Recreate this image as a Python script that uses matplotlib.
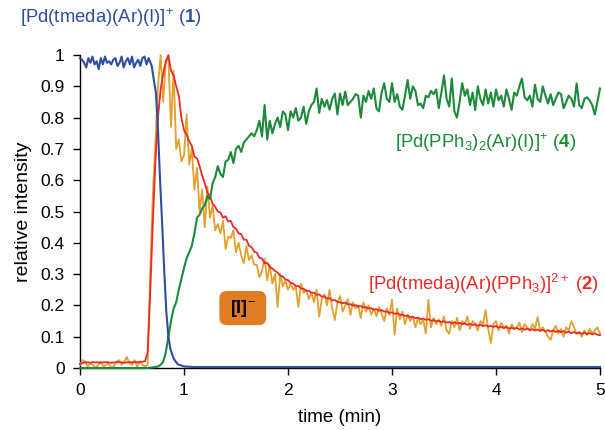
import numpy as np
import matplotlib
matplotlib.use("Agg")
import matplotlib.pyplot as plt
from matplotlib.patches import FancyBboxPatch

plt.rcParams['font.family'] = ['Liberation Sans', 'DejaVu Sans']
plt.rcParams['mathtext.fontset'] = 'custom'
plt.rcParams['mathtext.rm'] = 'Liberation Sans'
plt.rcParams['mathtext.it'] = 'Liberation Sans:italic'
plt.rcParams['mathtext.bf'] = 'Liberation Sans:bold'

# common time grid (min), step 0.025
t_grid = np.round(np.arange(201) * 0.025, 3)

# [Pd(tmeda)(Ar)(I)]+ (1)
t_blue = [0.00, 0.02, 0.04, 0.06, 0.08, 0.10, 0.12, 0.14, 0.16, 0.18, 0.20, 0.22,
          0.24, 0.26, 0.28, 0.30, 0.32, 0.34, 0.36, 0.38, 0.40, 0.42, 0.44, 0.46,
          0.48, 0.50, 0.52, 0.54, 0.56, 0.58, 0.60, 0.62, 0.64, 0.66, 0.69, 0.71,
          0.73, 0.75, 0.77, 0.79, 0.81, 0.83, 0.85, 0.87, 0.90, 0.94, 1.00, 1.10, 5.00]
v_blue = [0.99, 0.985, 0.975, 0.96, 0.99, 0.975, 0.995, 0.97, 0.98, 0.955, 0.99, 0.97,
          0.995, 0.975, 0.98, 0.97, 0.985, 0.99, 0.965, 0.975, 0.995, 0.96, 0.98, 0.99,
          0.97, 0.995, 0.96, 0.975, 0.985, 0.965, 0.99, 0.995, 0.97, 0.99, 0.965, 0.92,
          0.88, 0.76, 0.6, 0.46, 0.31, 0.18, 0.1, 0.06, 0.03, 0.012, 0.005, 0.003, 0.003]

# [Pd(tmeda)(Ar)(PPh3)]2+ (2)
v_red = [0.013, 0.016, 0.018, 0.018, 0.017, 0.019, 0.018, 0.018, 0.017, 0.018,
         0.019, 0.018, 0.017, 0.018, 0.018, 0.019, 0.018, 0.017, 0.018, 0.019,
         0.018, 0.019, 0.018, 0.02, 0.02, 0.022,
         0.05, 0.24, 0.46, 0.66, 0.8, 0.89, 0.94, 0.98, 1.0, 0.95,
         0.935, 0.9, 0.87, 0.8,
         0.76, 0.745, 0.725, 0.71, 0.675, 0.67, 0.645, 0.615, 0.59, 0.56,
         0.55, 0.525, 0.515, 0.5, 0.497, 0.48, 0.485, 0.468, 0.47, 0.45,
         0.445, 0.43, 0.428, 0.41, 0.41, 0.39, 0.386, 0.372, 0.368, 0.352,
         0.35, 0.335, 0.336, 0.322, 0.318, 0.31, 0.305, 0.295, 0.292, 0.283,
         0.281, 0.272, 0.27, 0.262, 0.262, 0.254, 0.253, 0.246, 0.247, 0.24,
         0.241, 0.234, 0.235, 0.228, 0.229, 0.222, 0.223, 0.216, 0.217, 0.211,
         0.21, 0.207, 0.209, 0.203, 0.204, 0.199, 0.201, 0.196, 0.198, 0.193,
         0.195, 0.19, 0.191, 0.186, 0.188, 0.183, 0.185, 0.18, 0.181, 0.176,
         0.178, 0.173, 0.175, 0.17, 0.171, 0.166, 0.168, 0.162, 0.164, 0.159,
         0.161, 0.156, 0.158, 0.154, 0.156, 0.151, 0.153, 0.149, 0.151, 0.147,
         0.149, 0.145, 0.147, 0.143, 0.146, 0.142, 0.144, 0.14, 0.143, 0.138,
         0.141, 0.137, 0.14, 0.135, 0.138, 0.134, 0.137, 0.132, 0.135, 0.131,
         0.134, 0.129, 0.132, 0.127, 0.131, 0.126, 0.129, 0.125, 0.128, 0.123,
         0.127, 0.122, 0.126, 0.121, 0.124, 0.12, 0.123, 0.118, 0.122, 0.117,
         0.121, 0.116, 0.12, 0.115, 0.119, 0.114, 0.118, 0.113, 0.116, 0.111,
         0.115, 0.11, 0.114, 0.109, 0.113, 0.108, 0.112, 0.107, 0.111, 0.106,
         0.105]

# [I]-
v_orange = [0.01, 0.025, 0.02, 0.005, 0.015, 0.01, 0.0, 0.01, 0.02, 0.005,
            0.01, 0.015, 0.0, 0.005, 0.02, 0.025, 0.01, 0.02, 0.035, 0.015,
            0.01, 0.025, 0.005, 0.02, 0.01, 0.005,
            0.01, 0.3, 0.55, 0.72, 0.9, 1.0, 0.85, 0.98, 0.99, 0.77,
            0.95, 0.7, 0.73, 0.66,
            0.68, 0.81, 0.65, 0.7, 0.57, 0.64, 0.5, 0.57, 0.45, 0.58,
            0.48, 0.52, 0.44, 0.46, 0.43, 0.47, 0.38, 0.42, 0.415, 0.44,
            0.37, 0.4, 0.36, 0.335, 0.39, 0.345, 0.36, 0.33, 0.33, 0.29,
            0.31, 0.35, 0.28, 0.33, 0.27, 0.3, 0.195, 0.3, 0.26, 0.28,
            0.25, 0.27, 0.25, 0.26, 0.195, 0.27, 0.24, 0.25, 0.22, 0.24,
            0.21, 0.25, 0.164, 0.22, 0.235, 0.2, 0.25, 0.19, 0.153, 0.21,
            0.23, 0.18, 0.2, 0.22, 0.17, 0.21, 0.19, 0.2, 0.16, 0.21,
            0.18, 0.2, 0.17, 0.19, 0.165, 0.195, 0.175, 0.15, 0.19, 0.17,
            0.218, 0.106, 0.19, 0.155, 0.18, 0.14, 0.17, 0.15, 0.165, 0.13,
            0.16, 0.14, 0.155, 0.11, 0.218, 0.13, 0.16, 0.14, 0.155, 0.135,
            0.165, 0.12, 0.11, 0.15, 0.13, 0.16, 0.12, 0.15, 0.14, 0.165,
            0.125, 0.15, 0.14, 0.12, 0.15, 0.14, 0.185, 0.125, 0.08, 0.14,
            0.15, 0.12, 0.145, 0.13, 0.135, 0.11, 0.14, 0.125, 0.13, 0.145,
            0.115, 0.14, 0.13, 0.12, 0.14, 0.125, 0.164, 0.12, 0.13, 0.115,
            0.1, 0.09, 0.12, 0.135, 0.11, 0.125, 0.1, 0.13, 0.12, 0.15,
            0.13, 0.11, 0.115, 0.1, 0.12, 0.105, 0.125, 0.11, 0.12, 0.13,
            0.11]

# [Pd(PPh3)2(Ar)(I)]+ (4)
v_green = [0.0, 0.0, 0.0, 0.0, 0.0, 0.0, 0.0, 0.0, 0.0, 0.0,
           0.0, 0.0, 0.0, 0.0, 0.0, 0.0, 0.0, 0.0, 0.0, 0.0,
           0.0, 0.0, 0.0, 0.0, 0.0, 0.0, 0.0, 0.001, 0.002,
           0.003, 0.005, 0.01, 0.02, 0.05, 0.1, 0.15, 0.19, 0.21, 0.25, 0.285,
           0.32, 0.35, 0.37, 0.39, 0.43, 0.48, 0.49, 0.51, 0.52, 0.55,
           0.54, 0.59, 0.61, 0.645, 0.62, 0.61, 0.66, 0.665, 0.69, 0.655,
           0.7, 0.71, 0.69, 0.72, 0.73, 0.74, 0.75, 0.74, 0.76, 0.79,
           0.74, 0.84, 0.73, 0.79, 0.75, 0.78, 0.8, 0.77, 0.82, 0.81,
           0.76, 0.82, 0.8, 0.83, 0.79, 0.8, 0.835, 0.78, 0.82, 0.84,
           0.85, 0.893, 0.815, 0.86, 0.835, 0.856, 0.825, 0.86, 0.877, 0.81,
           0.877, 0.84, 0.883, 0.84, 0.85, 0.86, 0.875, 0.87, 0.8, 0.87,
           0.85, 0.885, 0.86, 0.893, 0.83, 0.82, 0.88, 0.91, 0.86, 0.85,
           0.91, 0.85, 0.875, 0.835, 0.825, 0.87, 0.92, 0.86, 0.9, 0.885,
           0.84, 0.845, 0.83, 0.87, 0.865, 0.885, 0.875, 0.89, 0.83, 0.88,
           0.935, 0.86, 0.835, 0.925, 0.82, 0.8, 0.85, 0.91, 0.87, 0.89,
           0.84, 0.88, 0.824, 0.9, 0.86, 0.84, 0.89, 0.845, 0.88, 0.835,
           0.89, 0.855, 0.87, 0.835, 0.89, 0.86, 0.825, 0.88, 0.87, 0.9,
           0.925, 0.865, 0.855, 0.87, 0.835, 0.905, 0.86, 0.85, 0.9, 0.87,
           0.845, 0.875, 0.84, 0.86, 0.88, 0.875, 0.83, 0.85, 0.87, 0.86,
           0.835, 0.909, 0.84, 0.83, 0.86, 0.865, 0.855, 0.84, 0.81, 0.85,
           0.893]

x_ticks = [0, 1, 2, 3, 4, 5]
y_ticks = [0, 0.1, 0.2, 0.3, 0.4, 0.5, 0.6, 0.7, 0.8, 0.9, 1]
y_tick_labels = ["0", "0.1", "0.2", "0.3", "0.4", "0.5", "0.6", "0.7", "0.8", "0.9", "1"]

c_blue = "#2f4ea3"
c_red = "#ec2b27"
c_orange = "#e3a02c"
c_green = "#1c8a3b"
c_box = "#e07d24"

fig = plt.figure(figsize=(6.05, 4.3), dpi=100)
ax = fig.add_axes([80 / 605, 1 - 368 / 430, 520 / 605, 313 / 430])

ax.plot(t_grid, v_orange, color=c_orange, lw=1.3, clip_on=False, zorder=3)
ax.plot(t_grid, v_red, color=c_red, lw=1.3, clip_on=False, zorder=4)
ax.plot(t_grid, v_green, color=c_green, lw=1.5, clip_on=False, zorder=5)
ax.plot(t_blue, v_blue, color=c_blue, lw=1.5, clip_on=False, zorder=6)

ax.set_xlim(0, 5)
ax.set_ylim(0, 1)
ax.set_xticks(x_ticks)
ax.set_xticklabels([str(x) for x in x_ticks])
ax.set_yticks(y_ticks)
ax.set_yticklabels(y_tick_labels)
ax.tick_params(direction='out', length=5, width=1, labelsize=12.5, colors='black', pad=6)
for s in ['top', 'right']:
    ax.spines[s].set_visible(False)
for s in ['left', 'bottom']:
    ax.spines[s].set_linewidth(1.0)
ax.set_xlabel("time (min)", fontsize=13.5, labelpad=8)
ax.set_ylabel("relative intensity", fontsize=14, labelpad=6)

fig.text(20 / 605, 1 - 18 / 430, r"[Pd(tmeda)(Ar)(I)]$^{+}$ ($\mathbf{1}$)",
         color=c_blue, fontsize=13.3, va='center', ha='left')
ax.text(3.03, 0.72, r"[Pd(PPh$_{3}$)$_{2}$(Ar)(I)]$^{+}$ ($\mathbf{4}$)",
        color=c_green, fontsize=13.3, va='center', ha='left')
ax.text(2.77, 0.27, r"[Pd(tmeda)(Ar)(PPh$_{3}$)]$^{2+}$ ($\mathbf{2}$)",
        color=c_red, fontsize=13.3, va='center', ha='left')

box = FancyBboxPatch((1.34, 0.137), 0.45, 0.109, boxstyle="round,pad=0,rounding_size=0.07",
                     transform=ax.transData, facecolor=c_box, edgecolor='none', zorder=2,
                     mutation_aspect=0.35)
ax.add_patch(box)
ax.text(1.565, 0.19, r"[I]$^{-}$", color='black', fontsize=13, fontweight='bold',
        va='center', ha='center', zorder=3)

fig.savefig("out.png", dpi=100)
